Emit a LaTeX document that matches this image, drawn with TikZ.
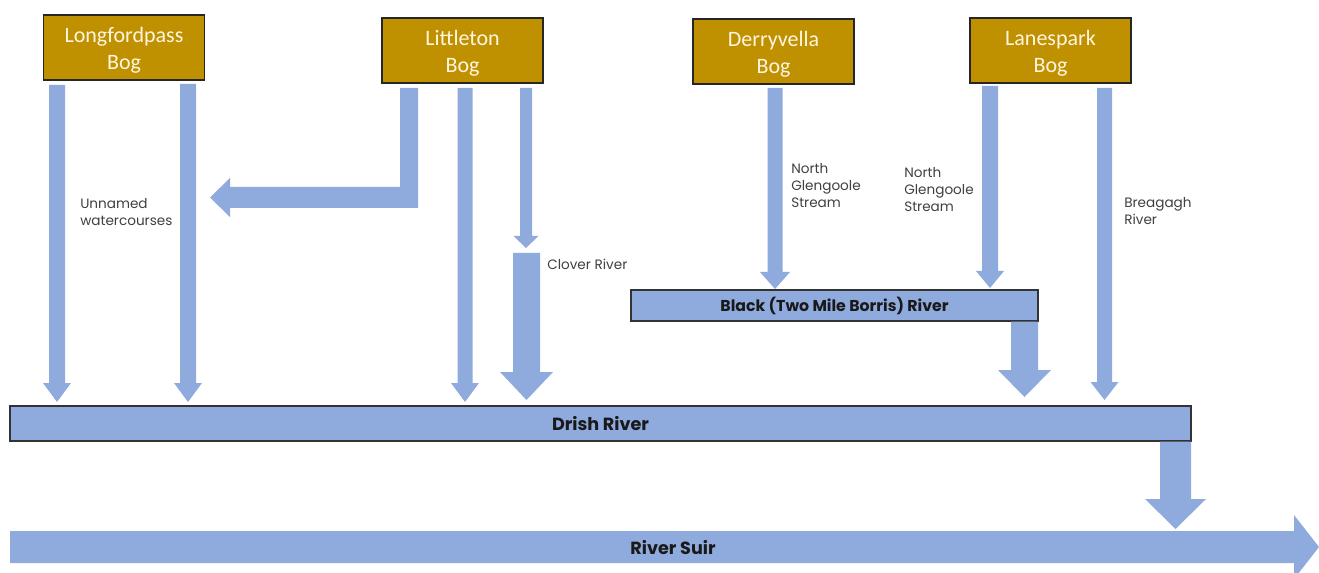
\documentclass[tikz,border=0pt]{standalone}
\usepackage{fontspec}
\setmainfont{Carlito}
\newfontfamily\cg{Poppins}
\definecolor{arrblue}{HTML}{8FAADC}
\definecolor{boggold}{HTML}{BF9000}
\definecolor{bogtext}{HTML}{FFF6E2}
\newcommand\dnarrow[6]{% cx, ytop, ytip, shaft half, head half, head length
  \fill[arr] ({#1-#4},#2) -- ({#1+#4},#2) -- ({#1+#4},{#3-#6}) -- ({#1+#5},{#3-#6}) -- (#1,#3) -- ({#1-#5},{#3-#6}) -- ({#1-#4},{#3-#6}) -- cycle;}
\newcommand\bogtxt[1]{\raisebox{-6.4pt}[0pt][0pt]{\parbox{110pt}{\centering #1}}}
\begin{document}
\begin{tikzpicture}[x=0.75pt,y=-0.75pt,
  bog/.style={draw=black!85, line width=0.8pt, fill=boggold, text=bogtext, align=center,
    font=\fontsize{16.5}{20}\selectfont, minimum width=120.75pt, minimum height=48.75pt, inner sep=0},
  river/.style={draw=black!80, line width=0.8pt, fill=arrblue, inner sep=0},
  bigtext/.style={font=\cg\bfseries\fontsize{13.2}{16}\selectfont, text=black!90},
  lbl/.style={font=\cg\fontsize{10.2}{12.75}\selectfont, align=left, anchor=north west, inner sep=0, text=black!75},
  arr/.style={fill=arrblue}]
\useasboundingbox (0,0) rectangle (1319,573);
\clip (0,0) rectangle (1319,573);

% bogs
\node[bog] (lf) at (124,47.5) {\bogtxt{Longfordpass\\Bog}};
\node[bog] (lt) at (462.5,50.5) {\bogtxt{Littleton\\Bog}};
\node[bog] (dv) at (773.5,51.5) {\bogtxt{Derryvella\\Bog}};
\node[bog] (lp) at (1050.5,50.5) {\bogtxt{Lanespark\\Bog}};

% arrows from Longfordpass
\dnarrow{57}{85}{402}{8}{14}{19}
\dnarrow{188}{84}{402}{8}{14}{19}

% Littleton elbow arrow
\fill[arr] (400,88) -- (418,88) -- (418,208) -- (230,208) -- (230,217) -- (210,197.5) -- (230,178) -- (230,187) -- (400,187) -- cycle;
% Littleton straight arrows
\dnarrow{465}{88}{402}{7.5}{14}{19}
\dnarrow{526}{88}{248}{6}{12.5}{12}
% Clover River
\dnarrow{526.5}{253}{400}{13.5}{26.5}{28}

% Derryvella
\dnarrow{775}{88}{289}{7.5}{15}{17}
% Lanespark
\dnarrow{990}{86}{288}{8}{14}{17}
\dnarrow{1104.5}{88}{400}{7.5}{14}{18}

% Black river
\node[river, minimum width=305.25pt, minimum height=23.25pt, font=\cg\bfseries\fontsize{11.8}{14}\selectfont, text=black!90] (bk) at (834.5,305.5) {Black (Two Mile Borris) River};
\dnarrow{1024.5}{321.5}{397}{13.5}{26.5}{27}

% Drish river
\node[river, bigtext, minimum width=885.75pt, minimum height=26.25pt] (dr) at (600.5,423.5) {Drish River};
\dnarrow{1175.5}{441.5}{529}{15.5}{30.5}{30}

% River Suir
\fill[arr] (10,531) -- (1294,531) -- (1294,515) -- (1319,547) -- (1294,579) -- (1294,563) -- (10,563) -- cycle;
\node[bigtext] (su) at (673,548) {River Suir};

% labels
\node[lbl] (l1) at (80,198) {Unnamed\\watercourses};
\node[lbl] (l2) at (547,258.5) {Clover River};
\node[lbl] (l3) at (791,163.5) {North\\Glengoole\\Stream};
\node[lbl] (l4) at (904,167.5) {North\\Glengoole\\Stream};
\node[lbl] (l5) at (1124,197.5) {Breagagh\\River};
\end{tikzpicture}
\end{document}
